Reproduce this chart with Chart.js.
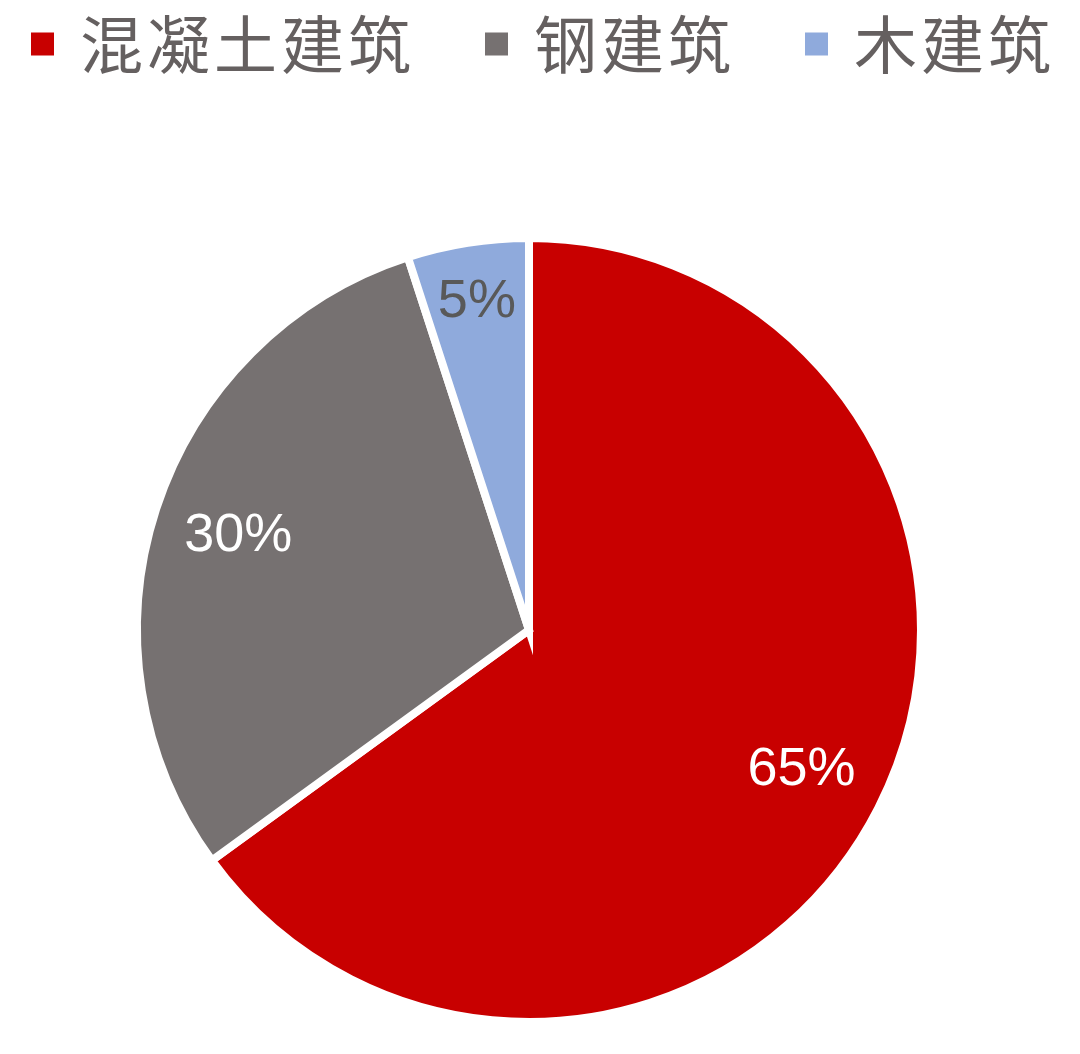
<!DOCTYPE html>
<html>
<head>
<meta charset="utf-8">
<script src="https://cdn.jsdelivr.net/npm/chart.js@4.4.1/dist/chart.umd.min.js"></script>
<style>
  html, body { margin: 0; padding: 0; background: #fff; }
</style>
</head>
<body>
<canvas id="pieChart" width="1080" height="1054"></canvas>
<script>
// 数据
const categories = ['混凝土建筑', '钢建筑', '木建筑'];
const shares = [65, 30, 5];

// 样式
const sliceColors = ['#C80000', '#767171', '#8FAADC'];
const labelColors = ['#FFFFFF', '#FFFFFF', '#595959'];
const legendTextColor = '#656060';

// custom legend so spacing can follow the original layout
const topLegend = {
  id: 'topLegend',
  afterDraw(chart) {
    const ctx = chart.ctx;
    const labels = chart.data.labels;
    const colors = chart.data.datasets[0].backgroundColor;
    const box = 23, boxGap = 26, itemGap = 70, centerX = 543, centerY = 44;
    ctx.save();
    ctx.font = '63px "Noto Sans CJK SC", sans-serif';
    ctx.letterSpacing = '4px';
    ctx.textBaseline = 'middle';
    ctx.textAlign = 'left';
    const widths = labels.map(t => box + boxGap + ctx.measureText(t).width);
    const total = widths.reduce((a, b) => a + b, 0) + itemGap * (labels.length - 1);
    let x = centerX - total / 2;
    labels.forEach((t, i) => {
      ctx.fillStyle = colors[i];
      ctx.fillRect(x, centerY - box / 2, box, box);
      ctx.fillStyle = legendTextColor;
      ctx.fillText(t, x + box + boxGap, centerY);
      x += widths[i] + itemGap;
    });
    ctx.restore();
  }
};

// 百分比标签
const sliceLabels = {
  id: 'sliceLabels',
  afterDatasetsDraw(chart) {
    const ctx = chart.ctx;
    const meta = chart.getDatasetMeta(0);
    ctx.save();
    ctx.font = '54px "Liberation Sans", Arial, sans-serif';
    ctx.textAlign = 'center';
    ctx.textBaseline = 'middle';
    meta.data.forEach((arc, i) => {
      const p = arc.getProps(['x', 'y', 'startAngle', 'endAngle', 'outerRadius'], true);
      const mid = (p.startAngle + p.endAngle) / 2;
      const frac = shares[i] < 10 ? 0.85 : 0.78;
      ctx.fillStyle = labelColors[i];
      ctx.fillText(shares[i] + '%',
        p.x + Math.cos(mid) * p.outerRadius * frac,
        p.y + Math.sin(mid) * p.outerRadius * frac + 1);
    });
    ctx.restore();
  }
};

const ctx = document.getElementById('pieChart').getContext('2d');
new Chart(ctx, {
  type: 'pie',
  data: {
    labels: categories,
    datasets: [{
      data: shares,
      backgroundColor: sliceColors,
      borderColor: '#FFFFFF',
      borderWidth: 8,
      borderJoinStyle: 'miter',
      hoverOffset: 0,
      offset: 0
    }]
  },
  options: {
    responsive: false,
    animation: false,
    layout: {
      padding: { top: 234, bottom: 28, left: 0, right: 22 }
    },
    plugins: {
      legend: { display: false },
      tooltip: { enabled: false }
    }
  },
  plugins: [sliceLabels, topLegend]
});
</script>
</body>
</html>
